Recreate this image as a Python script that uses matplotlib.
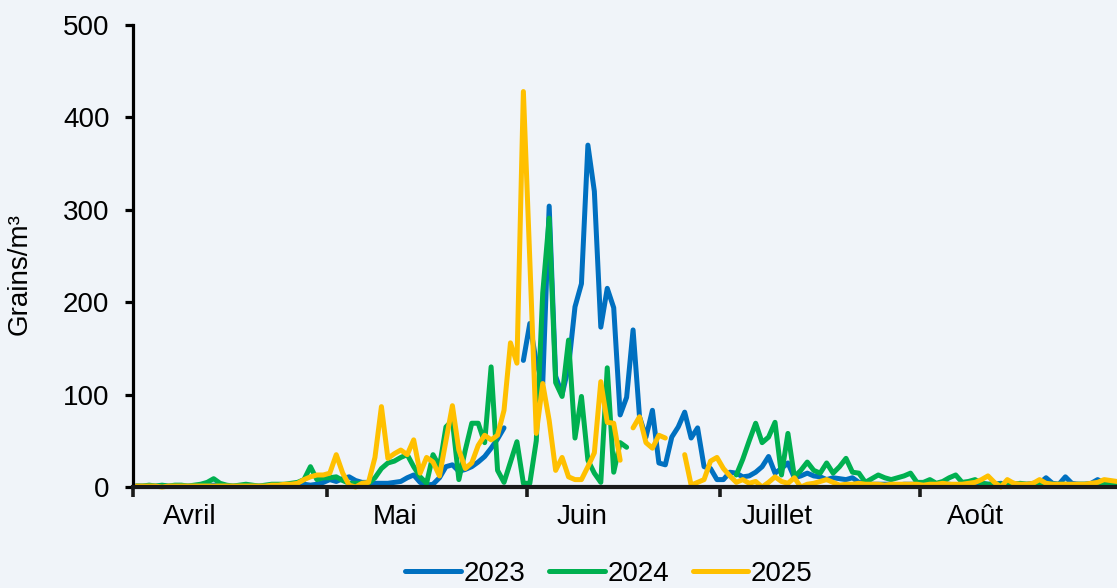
import matplotlib
matplotlib.use("Agg")
import matplotlib.pyplot as plt
import numpy as np

nan = np.nan

# daily pollen counts, 1 April (index 0) to 31 August (index 152)
pollen_2023 = [
    1, 1, 1, 1, 1, 1, 1, 1, 1, 1,
    1, 1, 2, 1, 1, 1, 1, 1, 1, 1,
    1, 1, 1, 1, 2, 2, 3, 2, 3, 5,
    8, 6, 9, 11, 7, 5, 5, 4, 4, 4,
    5, 6, 10, 13, 5, 2, 3, 10, 22, 24,
    17, 19, 22, 27, 33, 42, 52, 64, nan, nan,
    137, 177, 135, 112, 304, 120, 100, 130, 195, 220,
    370, 320, 173, 215, 194, 78, 97, 170, 76, 54,
    83, 26, 24, 54, 65, 81, 53, 64, 22, 20,
    8, 8, 16, 15, 11, 12, 16, 22, 33, 15,
    20, 26, 10, 12, 15, 12, 11, 8, 10, 9,
    8, 10, 5, 4, 3, 3, 3, 3, 2, 3,
    3, 3, 2, 3, 3, 4, 3, 2, 3, 3,
    3, 4, 3, 3, 4, 3, 4, 3, 3, 4,
    4, 10, 4, 3, 11, 4, 3, 3, 4, 8,
    4, 3, 3,
]

pollen_2024 = [
    1, 1, 2, 1, 2, 1, 2, 2, 1, 2,
    3, 5, 9, 4, 2, 1, 2, 3, 2, 1,
    2, 3, 3, 3, 4, 5, 8, 22, 8, 10,
    10, 11, 7, 4, 4, 4, 4, 10, 20, 26,
    28, 32, 35, 22, 11, 4, 35, 22, 65, 72,
    8, 40, 69, 69, 48, 130, 18, 5, 27, 49,
    4, 4, 50, 210, 291, 113, 98, 159, 53, 98,
    29, 15, 5, 129, 16, 48, 43, nan, nan, nan,
    nan, nan, nan, nan, nan, nan, nan, nan, nan, nan,
    nan, nan, nan, 13, 30, 50, 69, 48, 54, 70,
    13, 58, 11, 18, 27, 18, 15, 26, 15, 22,
    31, 16, 15, 5, 9, 13, 10, 8, 10, 12,
    15, 5, 5, 8, 4, 6, 10, 13, 5, 6,
    8, 4, 3, 3, 3, 3, 3, 4, 3, 3,
    3, 4, 3, 3, 3, 2, 3, 3, 3, 4,
    3, 2, 2,
]

pollen_2025 = [
    1, 1, 1, 1, 0, 1, 1, 1, 1, 1,
    1, 1, 1, 1, 1, 1, 1, 1, 1, 1,
    1, 2, 2, 3, 3, 4, 8, 11, 13, 13,
    15, 35, 15, 2, 0, 4, 5, 32, 87, 31,
    36, 40, 35, 51, 15, 32, 27, 12, 50, 88,
    40, 20, 26, 45, 56, 51, 56, 83, 156, 134,
    428, 245, 58, 112, 72, 18, 32, 11, 8, 8,
    22, 37, 114, 70, 69, 29, nan, 64, 76, 48,
    42, 56, 53, nan, nan, 35, 2, 5, 8, 28,
    32, 20, 12, 5, 8, 4, 6, 0, 5, 11,
    6, 4, 10, 0, 3, 4, 6, 8, 5, 2,
    3, 3, 4, 3, 3, 3, 2, 3, 3, 3,
    3, 3, 2, 3, 3, 4, 3, 3, 3, 4,
    5, 8, 12, 5, 0, 8, 4, 3, 3, 4,
    8, 4, 3, 3, 3, 3, 3, 3, 4, 5,
    8, 7, 6,
]

years = ["2023", "2024", "2025"]
colors = ["#0070C0", "#00B050", "#FFC000"]

month_names = ["Avril", "Mai", "Juin", "Juillet", "Août"]
month_starts = [0, 30, 61, 91, 122]
month_label_pos = [8.8, 40.6, 69.6, 99.8, 130.5]

bg = "#F0F4F9"
plt.rcParams['font.family'] = ['Liberation Sans', 'DejaVu Sans']
fs = 20

fig = plt.figure(figsize=(11.17, 5.88), dpi=100, facecolor=bg)
ax = fig.add_axes([133/1117, 101/588, 1 - 133/1117, 462/588])
ax.set_facecolor(bg)

x = np.arange(len(pollen_2023)) + 0.5
for vals, year, col in zip([pollen_2023, pollen_2024, pollen_2025], years, colors):
    ax.plot(x, np.array(vals, dtype=float), color=col, lw=3.6, label=year,
            solid_joinstyle="round", solid_capstyle="round", clip_on=False)

ax.set_xlim(0, 152.5)
ax.set_ylim(0, 500)
ax.set_yticks([0, 100, 200, 300, 400, 500])

ax.set_xticks(month_starts)
ax.set_xticklabels([])
ax.set_xticks(month_label_pos, minor=True)
ax.set_xticklabels(month_names, minor=True)
ax.tick_params(axis="x", which="major", length=7, width=2.6, color="#1a1a1a")
ax.tick_params(axis="x", which="minor", length=0, pad=12, labelsize=fs)
ax.tick_params(axis="y", length=6, width=2.3, pad=11, labelsize=fs)

for s in ["top", "right"]:
    ax.spines[s].set_visible(False)
ax.spines["left"].set_linewidth(2.3)
ax.spines["bottom"].set_linewidth(3)
ax.spines["bottom"].set_color("#1a1a1a")

ax.set_ylabel("Grains/m³", fontsize=fs)
ax.yaxis.set_label_coords(-0.102, 0.46)

fig.legend(loc="center", bbox_to_anchor=(609/1117, 14/588), ncol=3, frameon=False,
           fontsize=fs, handlelength=2.0, handletextpad=0.1, columnspacing=0.85)

fig.savefig("out.png", dpi=100, facecolor=bg)
